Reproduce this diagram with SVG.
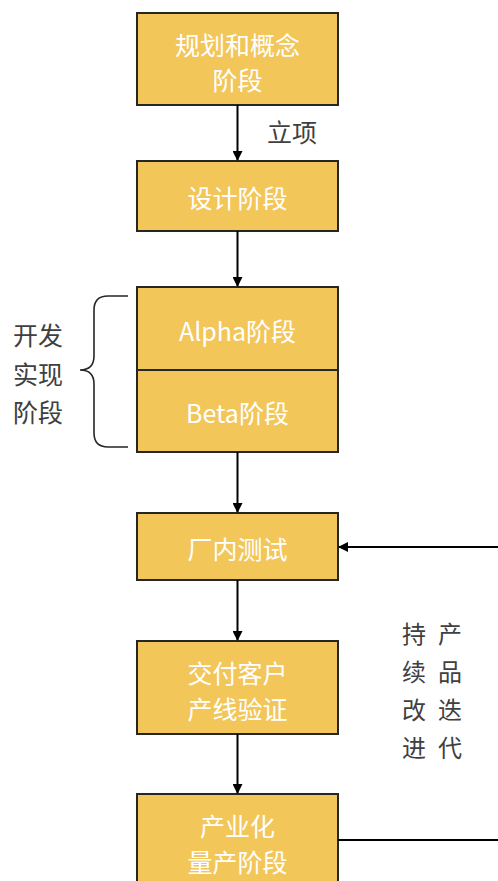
<svg xmlns="http://www.w3.org/2000/svg" width="498" height="881" viewBox="0 0 498 881">
<defs>
<marker id="arr" markerWidth="10" markerHeight="10" refX="9" refY="5" orient="auto" markerUnits="userSpaceOnUse">
<path d="M0,0 L10,5 L0,10 z" fill="#000"/>
</marker>
<style>
.box{fill:#F3C65A;stroke:#262626;stroke-width:2}
.bt{font-family:"Noto Sans CJK SC","Noto Sans",sans-serif;font-size:25px;fill:#fff;text-anchor:middle;dominant-baseline:central}
.lb{font-family:"Noto Sans CJK SC","Noto Sans",sans-serif;font-size:25px;fill:#404040;text-anchor:middle;dominant-baseline:central}
.vt{font-family:"Noto Sans CJK SC","Noto Sans",sans-serif;font-size:24px;fill:#404040;text-anchor:middle;dominant-baseline:central}
.ln{stroke:#000;stroke-width:2;fill:none}
</style>
</defs>
<rect width="498" height="881" fill="#fff"/>
<g id="n1"><rect class="box" x="137" y="13" width="201" height="92"/><text class="bt" x="237.5" y="44">规划和概念</text><text class="bt" x="237.5" y="79">阶段</text></g>
<g id="n2"><rect class="box" x="137" y="161" width="201" height="70"/><text class="bt" x="237.5" y="197">设计阶段</text></g>
<g id="n3"><rect class="box" x="137" y="287" width="201" height="83"/><text class="bt" x="237.5" y="330">Alpha阶段</text></g>
<g id="n4"><rect class="box" x="137" y="370" width="201" height="82"/><text class="bt" x="237.5" y="412">Beta阶段</text></g>
<g id="n5"><rect class="box" x="137" y="513" width="201" height="67"/><text class="bt" x="237.5" y="548">厂内测试</text></g>
<g id="n6"><rect class="box" x="137" y="641" width="201" height="93"/><text class="bt" x="237.5" y="672">交付客户</text><text class="bt" x="237.5" y="708">产线验证</text></g>
<g id="n7"><rect class="box" x="137" y="794" width="201" height="100"/><text class="bt" x="237.5" y="825">产业化</text><text class="bt" x="237.5" y="861">量产阶段</text></g>
<g id="connectors">
<line class="ln" x1="237.5" y1="105" x2="237.5" y2="160" marker-end="url(#arr)"/>
<line class="ln" x1="237.5" y1="231" x2="237.5" y2="286" marker-end="url(#arr)"/>
<line class="ln" x1="237.5" y1="452" x2="237.5" y2="512" marker-end="url(#arr)"/>
<line class="ln" x1="237.5" y1="580" x2="237.5" y2="640" marker-end="url(#arr)"/>
<line class="ln" x1="237.5" y1="734" x2="237.5" y2="793" marker-end="url(#arr)"/>
<line class="ln" x1="498" y1="547" x2="339" y2="547" marker-end="url(#arr)"/>
<line class="ln" x1="338" y1="840" x2="498" y2="840"/>
</g>
<g id="brace"><path d="M128,296 L108,296 Q94,296 94,310 L94,356 Q94,370 80,370 Q94,370 94,384 L94,433 Q94,447 108,447 L128,447" fill="none" stroke="#262626" stroke-width="1.6"/></g>
<g id="labels">
<text class="lb" x="292" y="131">立项</text>
<text class="lb" x="38" y="334">开发</text>
<text class="lb" x="38" y="373">实现</text>
<text class="lb" x="38" y="411">阶段</text>
<text class="vt" x="414" y="632">持</text>
<text class="vt" x="414" y="670">续</text>
<text class="vt" x="414" y="708">改</text>
<text class="vt" x="414" y="746">进</text>
<text class="vt" x="450" y="632">产</text>
<text class="vt" x="450" y="670">品</text>
<text class="vt" x="450" y="708">迭</text>
<text class="vt" x="450" y="746">代</text>
</g>
</svg>
